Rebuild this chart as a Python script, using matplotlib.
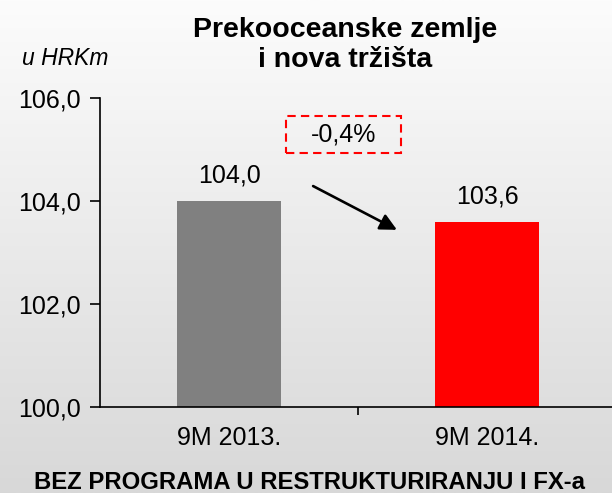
import numpy as np
import matplotlib
matplotlib.use("Agg")
import matplotlib.pyplot as plt
from matplotlib.patches import Rectangle
from matplotlib.colors import LinearSegmentedColormap

categories = ["9M 2013.", "9M 2014."]
values = [104.0, 103.6]
bar_colors = ["#808080", "#ff0000"]
yticks = [100, 102, 104, 106]
ytick_labels = ["100,0", "102,0", "104,0", "106,0"]
value_labels = ["104,0", "103,6"]
change_label = "-0,4%"
title = "Prekooceanske zemlje\ni nova tržišta"
unit_label = "u HRKm"
footer = "BEZ PROGRAMA U RESTRUKTURIRANJU I FX-a"

plt.rcParams['font.family'] = ['Liberation Sans', 'DejaVu Sans']

fig = plt.figure(figsize=(6.12, 4.93), dpi=100)

# background gradient
bg = fig.add_axes([0, 0, 1, 1], zorder=-10)
grad = np.linspace(0, 1, 256).reshape(-1, 1)
cmap = LinearSegmentedColormap.from_list("bg", ["#fcfcfc", "#d8d8d8"])
bg.imshow(grad, aspect='auto', cmap=cmap, extent=[0, 1, 0, 1], origin='upper')
bg.axis('off')

ax = fig.add_axes([100/612, 86/493, 516/612, 309/493])
ax.patch.set_alpha(0)
x = np.arange(len(categories))
ax.bar(x, values, width=0.4, color=bar_colors, zorder=2)
ax.set_xlim(-0.5, 1.5)
ax.set_ylim(100, 106)

ax.set_yticks(yticks)
ax.set_yticklabels(ytick_labels, fontsize=18)
ax.set_xticks(x)
ax.set_xticklabels(categories, fontsize=18)
ax.set_xticks([0.5], minor=True)
ax.tick_params(axis='x', which='major', length=0, pad=13.5)
ax.tick_params(axis='x', which='minor', length=6, width=1.2, direction='out')
ax.tick_params(axis='y', length=7, width=1.2, direction='out', pad=7)
for s in ['top', 'right']:
    ax.spines[s].set_visible(False)
for s in ['left', 'bottom']:
    ax.spines[s].set_linewidth(1.2)

for xi, v, lab in zip(x, values, value_labels):
    ax.annotate(lab, (xi, v), xytext=(0, 13), textcoords='offset points',
                ha='center', va='baseline', fontsize=18)

# change box
ax.add_patch(Rectangle((0.221, 104.93), 0.446, 0.72, fill=False, edgecolor='#ff0000',
                       linestyle=(0, (4, 2.5)), linewidth=1.5, clip_on=False, zorder=3))
ax.text(0.444, 105.29, change_label, ha='center', va='center', fontsize=18)

# arrow
ax.annotate("", xy=(0.651, 103.44), xytext=(0.326, 104.29),
            arrowprops=dict(arrowstyle='-|>,head_length=1.0,head_width=0.5',
                            color='black', lw=1.9, shrinkA=0, shrinkB=0))

fig.text(345/612, 1 - 67/493, title, ha='center', va='baseline', fontsize=20.5,
         fontweight='bold', linespacing=1.2)
fig.text(22/612, 1 - 65/493, unit_label, ha='left', va='baseline', fontsize=16.5,
         fontstyle='italic')
fig.text(310/612, 4/493, footer, ha='center', va='baseline', fontsize=17.2,
         fontweight='bold')

fig.savefig("out.png", dpi=100)
